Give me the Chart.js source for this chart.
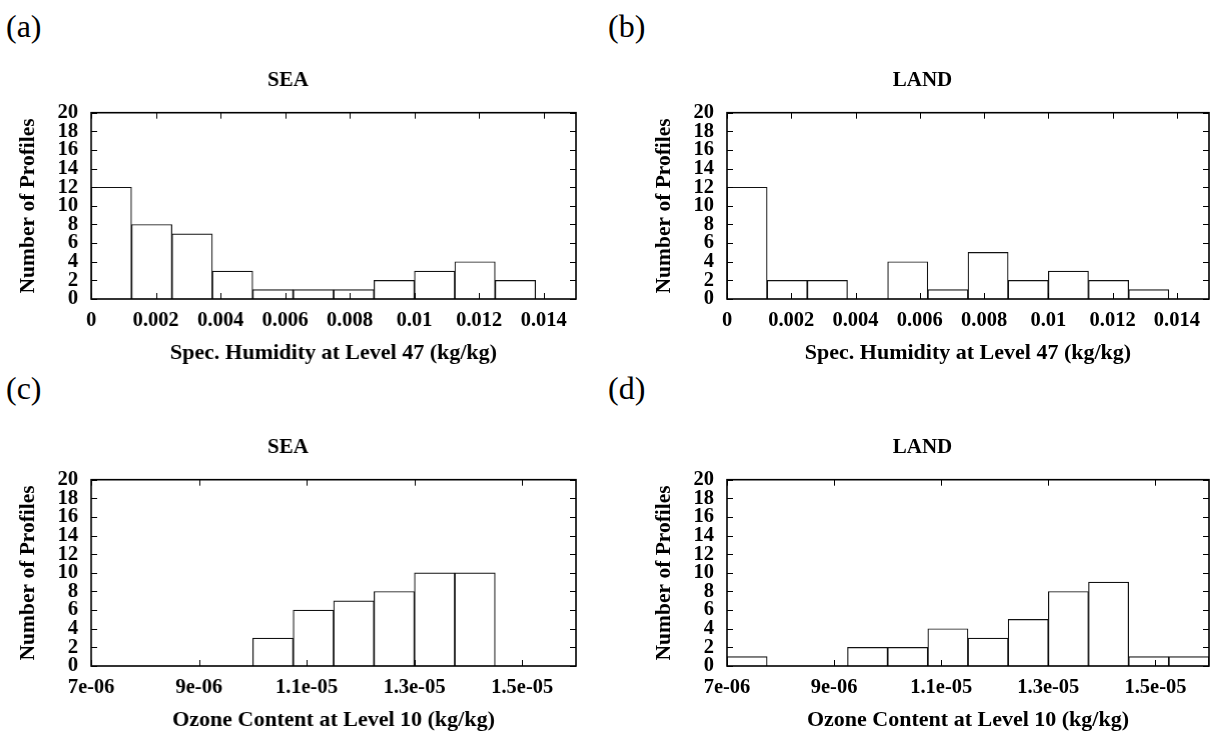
<!DOCTYPE html>
<html>
<head>
<meta charset="utf-8">
<script src="https://cdn.jsdelivr.net/npm/chart.js@4.4.1/dist/chart.umd.min.js"></script>
<style>
  body { margin: 0; width: 1210px; height: 737px; overflow: hidden; background: #fff; position: relative; }
  canvas { position: absolute; }
  .tag { position: absolute; font-family: "Liberation Serif", serif; font-size: 32px; line-height: 1; color: #000; }
</style>
</head>
<body>
<div class="tag" style="left:6px; top:10px;">(a)</div>
<div class="tag" style="left:608px; top:10px;">(b)</div>
<div class="tag" style="left:6px; top:372px;">(c)</div>
<div class="tag" style="left:608px; top:372px;">(d)</div>

<canvas id="seaHum"></canvas>
<canvas id="landHum"></canvas>
<canvas id="seaOz"></canvas>
<canvas id="landOz"></canvas>

<script>
// Histogram bins (centres) and counts
const humBinCenters = [0.000625, 0.001875, 0.003125, 0.004375, 0.005625, 0.006875,
                       0.008125, 0.009375, 0.010625, 0.011875, 0.013125, 0.014375];
const seaHumidity  = [12, 8, 7, 3, 1, 1, 1, 2, 3, 4, 2, 0];
const landHumidity = [12, 2, 2, 0, 4, 1, 5, 2, 3, 2, 1, 0];

const ozoneBinCenters = [7.375e-6, 8.125e-6, 8.875e-6, 9.625e-6, 1.0375e-5, 1.1125e-5,
                         1.1875e-5, 1.2625e-5, 1.3375e-5, 1.4125e-5, 1.4875e-5, 1.5625e-5];
const seaOzone  = [0, 0, 0, 0, 3, 6, 7, 8, 10, 10, 0, 0];
const landOzone = [1, 0, 0, 2, 2, 4, 3, 5, 8, 9, 1, 1];

// Tick values and labels
const humTicks = [0, 0.002, 0.004, 0.006, 0.008, 0.01, 0.012, 0.014];
const humTickLabels = ["0", "0.002", "0.004", "0.006", "0.008", "0.01", "0.012", "0.014"];
const ozoneTicks = [7e-6, 9e-6, 1.1e-5, 1.3e-5, 1.5e-5];
const ozoneTickLabels = ["7e-06", "9e-06", "1.1e-05", "1.3e-05", "1.5e-05"];
const countTicks = [0, 2, 4, 6, 8, 10, 12, 14, 16, 18, 20];

const FONT = "'Liberation Serif', 'Times New Roman', serif";

// gnuplot style frame with inward ticks on all four sides
const frameTicks = {
  id: "frameTicks",
  afterDatasetsDraw(chart) {
    const { ctx, chartArea: a, scales } = chart;
    const len = 6;
    ctx.save();
    ctx.strokeStyle = "#000";
    ctx.lineWidth = 1;
    ctx.beginPath();
    scales.x.ticks.forEach(t => {
      const px = Math.round(scales.x.getPixelForValue(t.value)) + 0.5;
      ctx.moveTo(px, a.bottom); ctx.lineTo(px, a.bottom - len);
      ctx.moveTo(px, a.top); ctx.lineTo(px, a.top + len);
    });
    scales.y.ticks.forEach(t => {
      const py = Math.round(scales.y.getPixelForValue(t.value)) + 0.5;
      ctx.moveTo(a.left, py); ctx.lineTo(a.left + len, py);
      ctx.moveTo(a.right, py); ctx.lineTo(a.right - len, py);
    });
    ctx.stroke();
    ctx.lineWidth = 1.6;
    ctx.strokeRect(a.left, a.top, a.right - a.left, a.bottom - a.top);
    ctx.restore();
  }
};

function makePanel(id, left, top, plotWidth, title, xTitle, centers, counts, xMin, xMax, ticks, tickLabels) {
  const yAxisWidth = 91;
  const plotHeight = 186.5;
  const xAxisHeight = 80;
  const titleBlock = 52.7;
  const titleTop = 8.4;
  const canvas = document.getElementById(id);
  const w = yAxisWidth + plotWidth + 10;
  const h = titleBlock + plotHeight + xAxisHeight;
  canvas.width = w;
  canvas.height = h;
  canvas.style.left = left + "px";
  canvas.style.top = top + "px";
  canvas.style.width = w + "px";
  canvas.style.height = h + "px";

  new Chart(canvas.getContext("2d"), {
    type: "bar",
    data: {
      datasets: [{
        data: centers.map((c, i) => ({ x: c, y: counts[i] })),
        backgroundColor: "#fff",
        borderColor: "#111",
        borderWidth: 1.2,
        barPercentage: 1,
        categoryPercentage: 1
      }]
    },
    options: {
      responsive: false,
      animation: false,
      devicePixelRatio: 1,
      layout: { padding: { top: 0, right: 10, bottom: 0, left: 0 } },
      plugins: {
        legend: { display: false },
        tooltip: { enabled: false },
        title: {
          display: true,
          text: title,
          color: "#000",
          font: { family: FONT, size: 21, weight: "bold" },
          padding: { top: titleTop, bottom: titleBlock - titleTop - 25.2 }
        }
      },
      scales: {
        x: {
          type: "linear",
          min: xMin,
          max: xMax,
          offset: false,
          grid: { display: false, drawTicks: false },
          border: { display: false },
          afterBuildTicks: s => { s.ticks = ticks.map(v => ({ value: v })); },
          afterFit: s => { s.height = xAxisHeight; },
          ticks: {
            autoSkip: false,
            maxRotation: 0,
            padding: 9.7,
            color: "#000",
            font: { family: FONT, size: 20.5, weight: "bold" },
            callback: (v, i) => tickLabels[i]
          },
          title: {
            display: true,
            text: xTitle,
            color: "#000",
            font: { family: FONT, size: 22, weight: "bold" },
            padding: { top: 0, bottom: 12.8 }
          }
        },
        y: {
          min: 0,
          max: 20,
          grid: { display: false, drawTicks: false },
          border: { display: false },
          afterBuildTicks: s => { s.ticks = countTicks.map(v => ({ value: v })); },
          afterFit: s => { s.width = yAxisWidth; },
          ticks: {
            autoSkip: false,
            padding: 13,
            color: "#000",
            font: { family: FONT, size: 20.5, weight: "bold" }
          },
          title: {
            display: true,
            text: "Number of Profiles",
            color: "#000",
            font: { family: FONT, size: 21.5, weight: "bold" },
            padding: { top: 15.5, bottom: 0 }
          }
        }
      }
    },
    plugins: [frameTicks]
  });
}

makePanel("seaHum", 0, 60, 484.5, "SEA", "Spec. Humidity at Level 47 (kg/kg)",
  humBinCenters, seaHumidity, 0, 0.015, humTicks, humTickLabels);
makePanel("landHum", 636, 60, 482, "LAND", "Spec. Humidity at Level 47 (kg/kg)",
  humBinCenters, landHumidity, 0, 0.015, humTicks, humTickLabels);
makePanel("seaOz", 0, 427.3, 484.5, "SEA", "Ozone Content at Level 10 (kg/kg)",
  ozoneBinCenters, seaOzone, 7e-6, 1.6e-5, ozoneTicks, ozoneTickLabels);
makePanel("landOz", 636, 427.3, 482, "LAND", "Ozone Content at Level 10 (kg/kg)",
  ozoneBinCenters, landOzone, 7e-6, 1.6e-5, ozoneTicks, ozoneTickLabels);
</script>
</body>
</html>
